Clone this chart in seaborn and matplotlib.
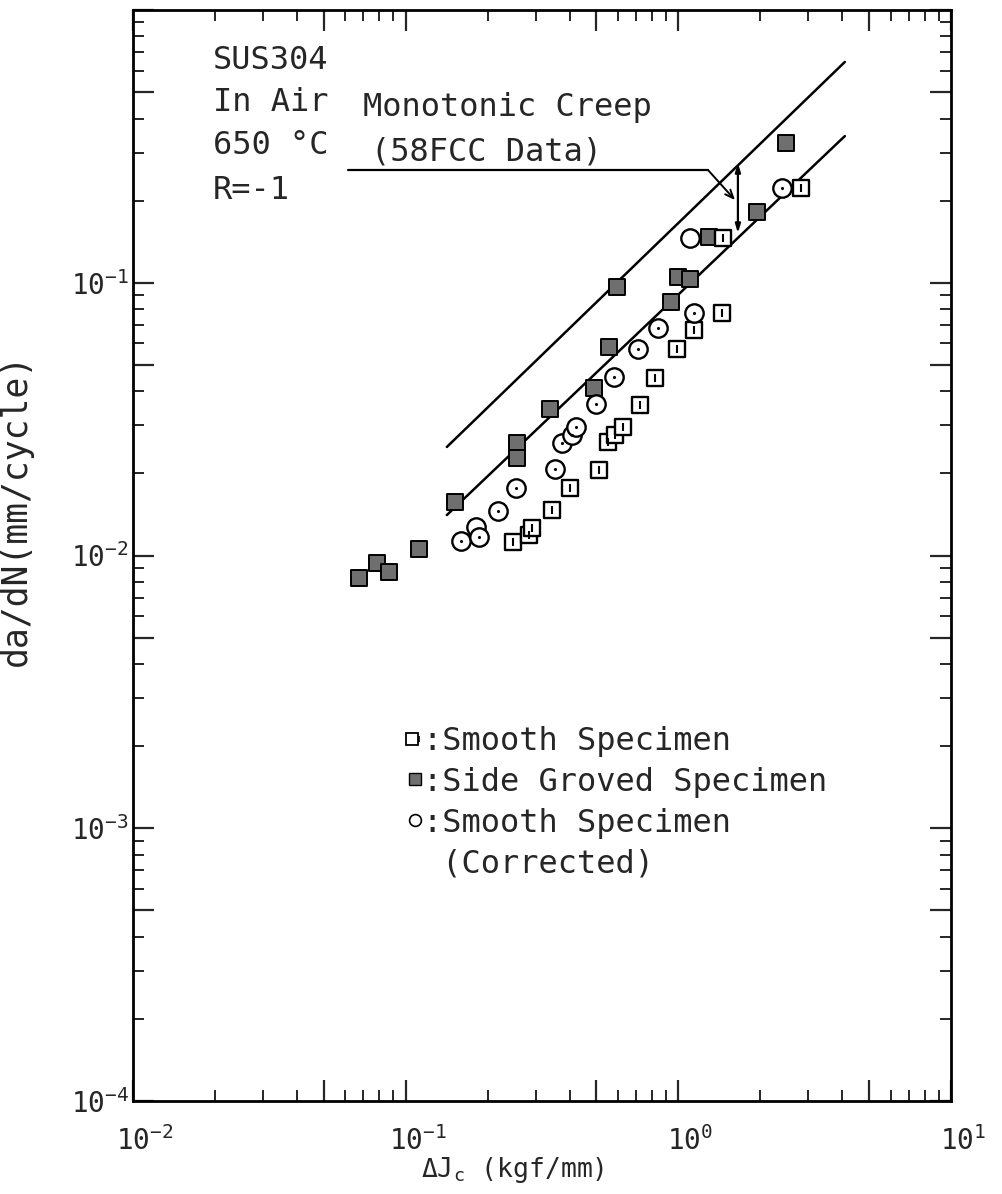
import numpy as np
import pandas as pd
import matplotlib
matplotlib.use("Agg")
import matplotlib.pyplot as plt
import matplotlib.transforms as mtransforms
import seaborn as sns
from matplotlib.ticker import FixedLocator, FuncFormatter
from matplotlib.lines import Line2D
from matplotlib.legend_handler import HandlerTuple

# ---------------- data ----------------
side_x = [0.0675, 0.0785, 0.0869, 0.112, 0.152, 0.256, 0.256, 0.338, 0.490,
          0.557, 0.596, 0.940, 1.00, 1.10, 1.295, 1.94, 2.48]
side_y = [0.00826, 0.00938, 0.00869, 0.01055, 0.0157, 0.0258, 0.0228, 0.0344, 0.0411,
          0.0581, 0.0965, 0.0850, 0.105, 0.103, 0.147, 0.182, 0.325]

smooth_x = [0.247, 0.283, 0.290, 0.343, 0.400, 0.512, 0.552, 0.585, 0.627,
            0.723, 0.820, 0.989, 1.14, 1.445, 1.46, 2.82]
smooth_y = [0.01120, 0.01188, 0.0126, 0.01467, 0.01767, 0.0206, 0.0261, 0.0276, 0.0296,
            0.0356, 0.0447, 0.0571, 0.0671, 0.0774, 0.146, 0.2225]

corr_x = [0.160, 0.181, 0.186, 0.218, 0.253, 0.353, 0.374, 0.407, 0.421,
          0.499, 0.581, 0.711, 0.841, 1.14, 1.10, 2.40]
corr_y = [0.0113, 0.0127, 0.01168, 0.01455, 0.01767, 0.0207, 0.0258, 0.0276, 0.0296,
          0.0359, 0.0451, 0.0571, 0.0682, 0.0774, 0.146, 0.2225]
corr_dot = [True, False, True, True, True, True, True, True, True,
            True, True, True, True, True, False, True]

# monotonic creep band lines (end points)
upper_x = [0.1416, 4.08]
upper_y = [0.0250, 0.645]
lower_x = [0.1416, 4.08]
lower_y = [0.01407, 0.345]

# annotation leader (horizontal line -> arrow) and vertical double arrow
leader_x = [0.0614, 1.285]
leader_y = [0.259, 0.259]
leader_tip = (1.614, 0.201)
band_x = 1.654
band_y = [0.275, 0.152]

# ---------------- style ----------------
sns.set_style("ticks")
MONO = "DejaVu Sans Mono"
plt.rcParams["font.family"] = [MONO, "DejaVu Sans"]
plt.rcParams["mathtext.fontset"] = "custom"
plt.rcParams["mathtext.rm"] = MONO
plt.rcParams["mathtext.it"] = MONO + ":italic"
plt.rcParams["mathtext.default"] = "regular"

fig = plt.figure(figsize=(10.02, 11.94), dpi=100)
ax = fig.add_axes([133 / 1002, 93 / 1194, 818 / 1002, 1091 / 1194])
ax.set_xscale("log")
ax.set_yscale("log")
ax.set_xlim(1e-2, 1e1)
ax.set_ylim(1e-4, 1e0)

# lines
sns.lineplot(x=upper_x, y=upper_y, ax=ax, color="black", lw=1.8, zorder=2)
sns.lineplot(x=lower_x, y=lower_y, ax=ax, color="black", lw=1.8, zorder=2)

# markers
sns.scatterplot(x=side_x, y=side_y, ax=ax, marker="s", s=135, color="#6f6f6f",
                edgecolor="black", linewidth=1.4, zorder=3)
sns.scatterplot(x=smooth_x, y=smooth_y, ax=ax, marker="s", s=135, color="white",
                edgecolor="black", linewidth=1.7, zorder=4)
sns.scatterplot(x=smooth_x, y=smooth_y, ax=ax, marker="|", s=30, color="black",
                linewidth=1.5, zorder=5)
sns.scatterplot(x=corr_x, y=corr_y, ax=ax, marker="o", s=175, color="white",
                edgecolor="black", linewidth=1.7, zorder=4)
cdf = pd.DataFrame({"x": corr_x, "y": corr_y, "dot": corr_dot})
cdf = cdf[cdf["dot"]]
sns.scatterplot(data=cdf, x="x", y="y", ax=ax, marker="o", s=5, color="black",
                linewidth=0, zorder=5)

# annotation
ax.plot(leader_x, leader_y, color="black", lw=1.6, zorder=2)
ax.annotate("", xy=leader_tip, xytext=(leader_x[1], leader_y[1]),
            arrowprops=dict(arrowstyle="->,head_length=0.6,head_width=0.25",
                            color="black", lw=1.4, shrinkA=0, shrinkB=0))
ax.annotate("", xy=(band_x, band_y[0]), xytext=(band_x, band_y[1]),
            arrowprops=dict(arrowstyle="<|-|>,head_length=0.5,head_width=0.15",
                            color="black", lw=1.6, shrinkA=0, shrinkB=0))

# texts
tfs = 23
for txt, yy in [("SUS304", 0.954), ("In Air", 0.915), ("650 °C", 0.876), ("R=-1", 0.835)]:
    ax.text(0.098, yy, txt, transform=ax.transAxes, fontsize=tfs, va="center", ha="left")
ax.text(0.281, 0.911, "Monotonic Creep", transform=ax.transAxes, fontsize=tfs,
        va="center", ha="left")
ax.text(0.291, 0.870, "(58FCC Data)", transform=ax.transAxes, fontsize=tfs,
        va="center", ha="left")

# legend
h_smooth = (Line2D([], [], ls="none", marker="s", ms=8, mfc="white", mec="black", mew=1.3),
            Line2D([], [], ls="none", marker="|", ms=4, mec="black", mew=1.2))
h_side = Line2D([], [], ls="none", marker="s", ms=8, mfc="#6f6f6f", mec="black", mew=1.0)
h_corr = Line2D([], [], ls="none", marker="o", ms=8.5, mfc="white", mec="black", mew=1.2)
h_blank = Line2D([], [], ls="none")
leg = ax.legend([h_smooth, h_side, h_corr, h_blank],
                [":Smooth Specimen", ":Side Groved Specimen", ":Smooth Specimen", " (Corrected)"],
                handler_map={tuple: HandlerTuple(ndivide=None)},
                loc="upper left", bbox_to_anchor=(0.3365, 0.344), frameon=False,
                fontsize=tfs, handlelength=0.45, handletextpad=0.0, borderpad=0,
                borderaxespad=0, labelspacing=0.31)

# axes / ticks
def major_fmt(v, pos):
    e = np.log10(v)
    if abs(e - round(e)) < 1e-6:
        return r"$10^{%d}$" % int(round(e))
    return ""

def major_fmt_y(v, pos):
    e = np.log10(v)
    if abs(e - round(e)) < 1e-6 and round(e) < 0:
        return r"$10^{%d}$" % int(round(e))
    return ""

decades = np.arange(-5, 2)
majors = sorted([10.0 ** d for d in decades] + [5 * 10.0 ** d for d in decades])
minors = sorted([m * 10.0 ** d for d in decades for m in (2, 3, 4, 6, 7, 8, 9)])
for axis in (ax.xaxis, ax.yaxis):
    axis.set_major_locator(FixedLocator(majors))
    axis.set_minor_locator(FixedLocator(minors))
ax.xaxis.set_major_formatter(FuncFormatter(major_fmt))
ax.yaxis.set_major_formatter(FuncFormatter(major_fmt_y))

ax.tick_params(which="major", direction="in", length=15, width=1.6,
               top=True, right=True, labelsize=20, pad=3)
ax.tick_params(which="minor", direction="in", length=8, width=1.4,
               top=True, right=True)
ax.tick_params(axis="x", which="major", pad=18)
shift = mtransforms.ScaledTranslation(12 / 100, 0, fig.dpi_scale_trans)
for lab in ax.get_xticklabels():
    lab.set_transform(lab.get_transform() + shift)
for sp in ax.spines.values():
    sp.set_linewidth(2.0)
    sp.set_color("black")

ax.set_xlabel(r"$\mathit{\Delta}$J$_c$ (kgf/mm)", fontsize=19)
ax.xaxis.label.set_va("center")
ax.xaxis.set_label_coords(0.4645, -0.063)
ax.set_ylabel("da/dN(mm/cycle)", fontsize=25)
ax.yaxis.set_label_coords(-0.123, 0.542)

fig.savefig("out.png", dpi=100, facecolor="white")
